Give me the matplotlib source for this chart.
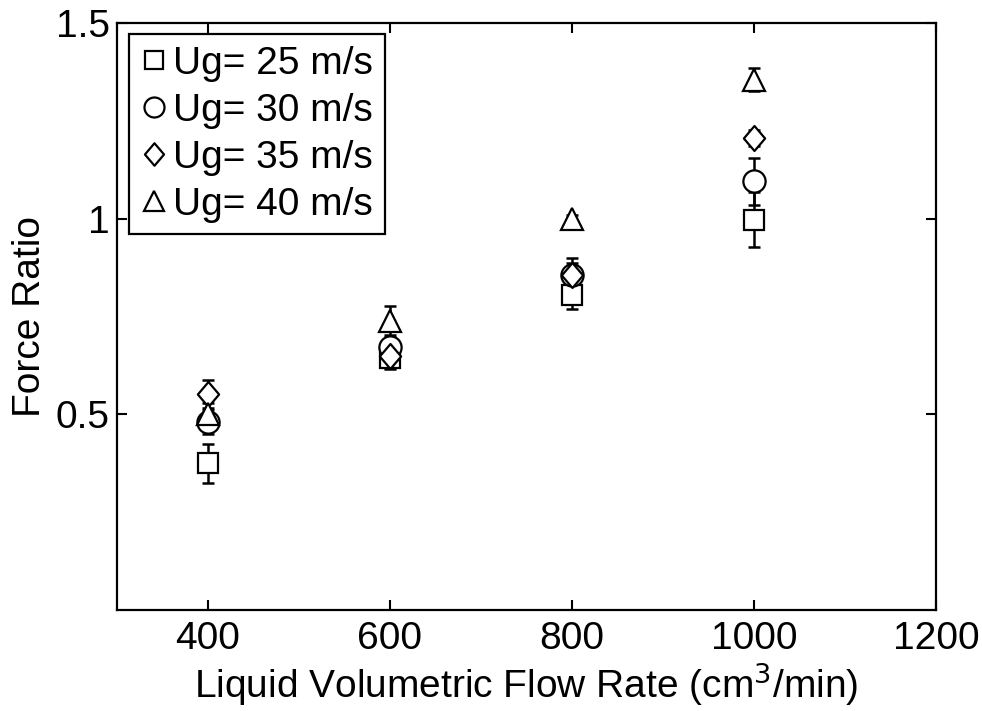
import matplotlib
matplotlib.use("Agg")
import matplotlib.pyplot as plt
from matplotlib.path import Path

flow = [400, 600, 800, 1000]
labels = ["Ug= 25 m/s", "Ug= 30 m/s", "Ug= 35 m/s", "Ug= 40 m/s"]
ug25 = [0.375, 0.645, 0.805, 0.997]
ug25_err = [0.05, 0.03, 0.035, 0.07]
ug30 = [0.48, 0.672, 0.855, 1.095]
ug30_err = [0.03, 0.03, 0.045, 0.06]
ug35 = [0.552, 0.648, 0.857, 1.205]
ug35_err = [0.035, 0.03, 0.03, 0.02]
ug40 = [0.50, 0.737, 1.0, 1.355]
ug40_err = [0.03, 0.04, 0.01, 0.03]

xticks = [400, 600, 800, 1000, 1200]
yticks = [0.5, 1.0, 1.5]
yticklabels = ["0.5", "1", "1.5"]

plt.rcParams['font.family'] = ['Liberation Sans', 'DejaVu Sans']
FS = 28

diamond = Path([(0, 1), (0.85, 0), (0, -1), (-0.85, 0), (0, 1)],
               [Path.MOVETO, Path.LINETO, Path.LINETO, Path.LINETO, Path.CLOSEPOLY])

fig = plt.figure(figsize=(9.82, 7.11), dpi=100)
ax = fig.add_axes([0.119, 0.142, 0.834, 0.826])

series = [
    (ug25, ug25_err, 's', 14.5),
    (ug30, ug30_err, 'o', 16),
    (ug35, ug35_err, diamond, 18),
    (ug40, ug40_err, '^', 16),
]
handles = []
for (vals, errs, m, ms), lab in zip(series, labels):
    ax.errorbar(flow, vals, yerr=errs, fmt='none', ecolor='black',
                elinewidth=1.8, capsize=4.5, capthick=1.8, zorder=2)
    ln, = ax.plot(flow, vals, linestyle='none', marker=m, markersize=ms,
                  markerfacecolor='white', markeredgecolor='black',
                  markeredgewidth=1.6, label=lab, zorder=3)
    handles.append(ln)

ax.set_xlim(300, 1200)
ax.set_ylim(0, 1.5)
ax.set_xticks(xticks)
ax.set_yticks(yticks)
ax.set_yticklabels(yticklabels)
ax.tick_params(direction='in', length=7, width=1.5, labelsize=FS,
               top=True, right=True)
ax.tick_params(axis='x', pad=8)
ax.tick_params(axis='y', pad=5)
for s in ax.spines.values():
    s.set_linewidth(1.6)

ax.set_xlabel("Liquid Volumetric Flow Rate (cm$^3$/min)", fontsize=FS, labelpad=2)
ax.set_ylabel("Force Ratio", fontsize=FS, labelpad=6)

leg = ax.legend(handles=handles, loc='upper left', fontsize=FS, markerscale=0.9,
                handlelength=0.7, handletextpad=0.15, borderpad=0.3,
                labelspacing=0.28, borderaxespad=0.3, fancybox=False,
                edgecolor='black', framealpha=1)
leg.get_frame().set_linewidth(1.6)

fig.savefig("out.png", dpi=100)
